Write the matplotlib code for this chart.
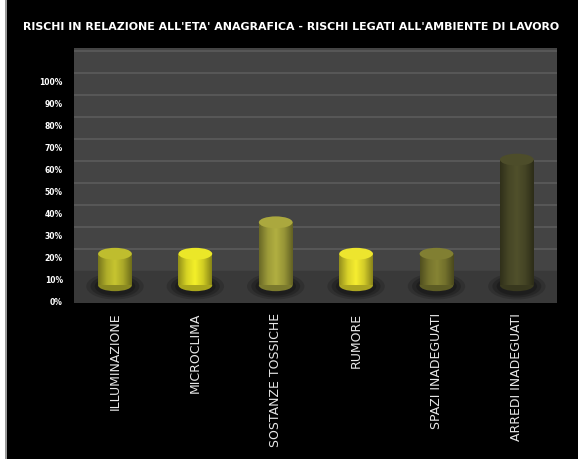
import matplotlib.pyplot as plt
import numpy as np
from matplotlib.patches import Ellipse, Rectangle
from matplotlib.colors import LinearSegmentedColormap, to_rgb

# Data
categories = ['ILLUMINAZIONE', 'MICROCLIMA', 'SOSTANZE TOSSICHE', 'RUMORE',
              'SPAZI INADEGUATI', 'ARREDI INADEGUATI']
values = [14.3, 14.3, 28.6, 14.3, 14.3, 57.1]
colors = ['#b8b62c', '#e2de26', '#a4a23c', '#e4dc2c', '#7c7a30', '#4a4a28']
ytick_vals = list(range(0, 101, 10))
ytick_labels = [f'{v}%' for v in ytick_vals]

title = "RISCHI IN RELAZIONE ALL'ETA' ANAGRAFICA - RISCHI LEGATI ALL'AMBIENTE DI LAVORO"

# 3D look: bars stand in the middle of the floor, back wall raised
base = 7.6
back = 14.1
bar_w = 0.42
ell_h = 5.4

fig = plt.figure(figsize=(5.78, 4.59), dpi=100, facecolor='black')
ax = fig.add_axes([0.128, 0.34, 0.8357, 0.5554])
ax.set_facecolor('#444444')

# floor and back-wall gridlines
ax.axhspan(-0.45, back, color='#393939', zorder=0.5)
for v in ytick_vals[1:]:
    ax.axhline(back + v, color='#585858', lw=1.4, zorder=0.6)

x = np.arange(len(categories))

def shade(c, f):
    r = np.array(to_rgb(c))
    return tuple(np.clip(r * f, 0, 1))

for i, (v, c) in enumerate(zip(values, colors)):
    # soft shadow under the cylinder
    for k, a in [(1.7, 0.25), (1.45, 0.35), (1.2, 0.5)]:
        ax.add_patch(Ellipse((i, base - 0.5), bar_w * k, ell_h * k * 1.3,
                             color='#161616', alpha=a, lw=0, zorder=1))
    # bottom cap
    ax.add_patch(Ellipse((i, base), bar_w, ell_h, color=shade(c, 0.75),
                         lw=0, zorder=2))
    bar = ax.bar(i, v, bottom=base, width=bar_w, color=c, lw=0, zorder=3)[0]
    cmap = LinearSegmentedColormap.from_list(
        'cyl', [shade(c, 0.65), shade(c, 0.95), shade(c, 1.08), shade(c, 0.92), shade(c, 0.6)])
    grad = np.linspace(0, 1, 64).reshape(1, -1)
    im = ax.imshow(grad, cmap=cmap, aspect='auto', zorder=3.5,
                   extent=(i - bar_w / 2, i + bar_w / 2, base, base + v))
    im.set_clip_path(bar)
    # top cap
    ax.add_patch(Ellipse((i, base + v), bar_w, ell_h, color=shade(c, 1.04),
                         lw=0, zorder=4))

ax.set_xlim(-0.51, 5.5)
ax.set_ylim(-0.45, 115.45)

ax.set_yticks(ytick_vals)
ax.set_yticklabels(ytick_labels, color='white', fontsize=5.5, fontweight='bold')
ax.set_xticks(x)
ax.set_xticklabels(categories, rotation=90, color='#e8e8e8', fontsize=9,
                   va='top', ha='center')
ax.tick_params(axis='y', length=0, pad=8)
ax.tick_params(axis='x', length=0, pad=7)
for s in ax.spines.values():
    s.set_visible(False)

fig.text(0.503, 0.941, title, color='white', fontsize=7.9, fontweight='bold',
         ha='center', va='center')

# white strip on the left edge of the picture
fig.add_artist(Rectangle((0, 0), 5 / 578, 1, transform=fig.transFigure,
                         color='white', lw=0))
fig.add_artist(Rectangle((5 / 578, 0), 2 / 578, 1, transform=fig.transFigure,
                         color='#9a9a9a', lw=0))

fig.savefig('out.png', dpi=100, facecolor='black')
